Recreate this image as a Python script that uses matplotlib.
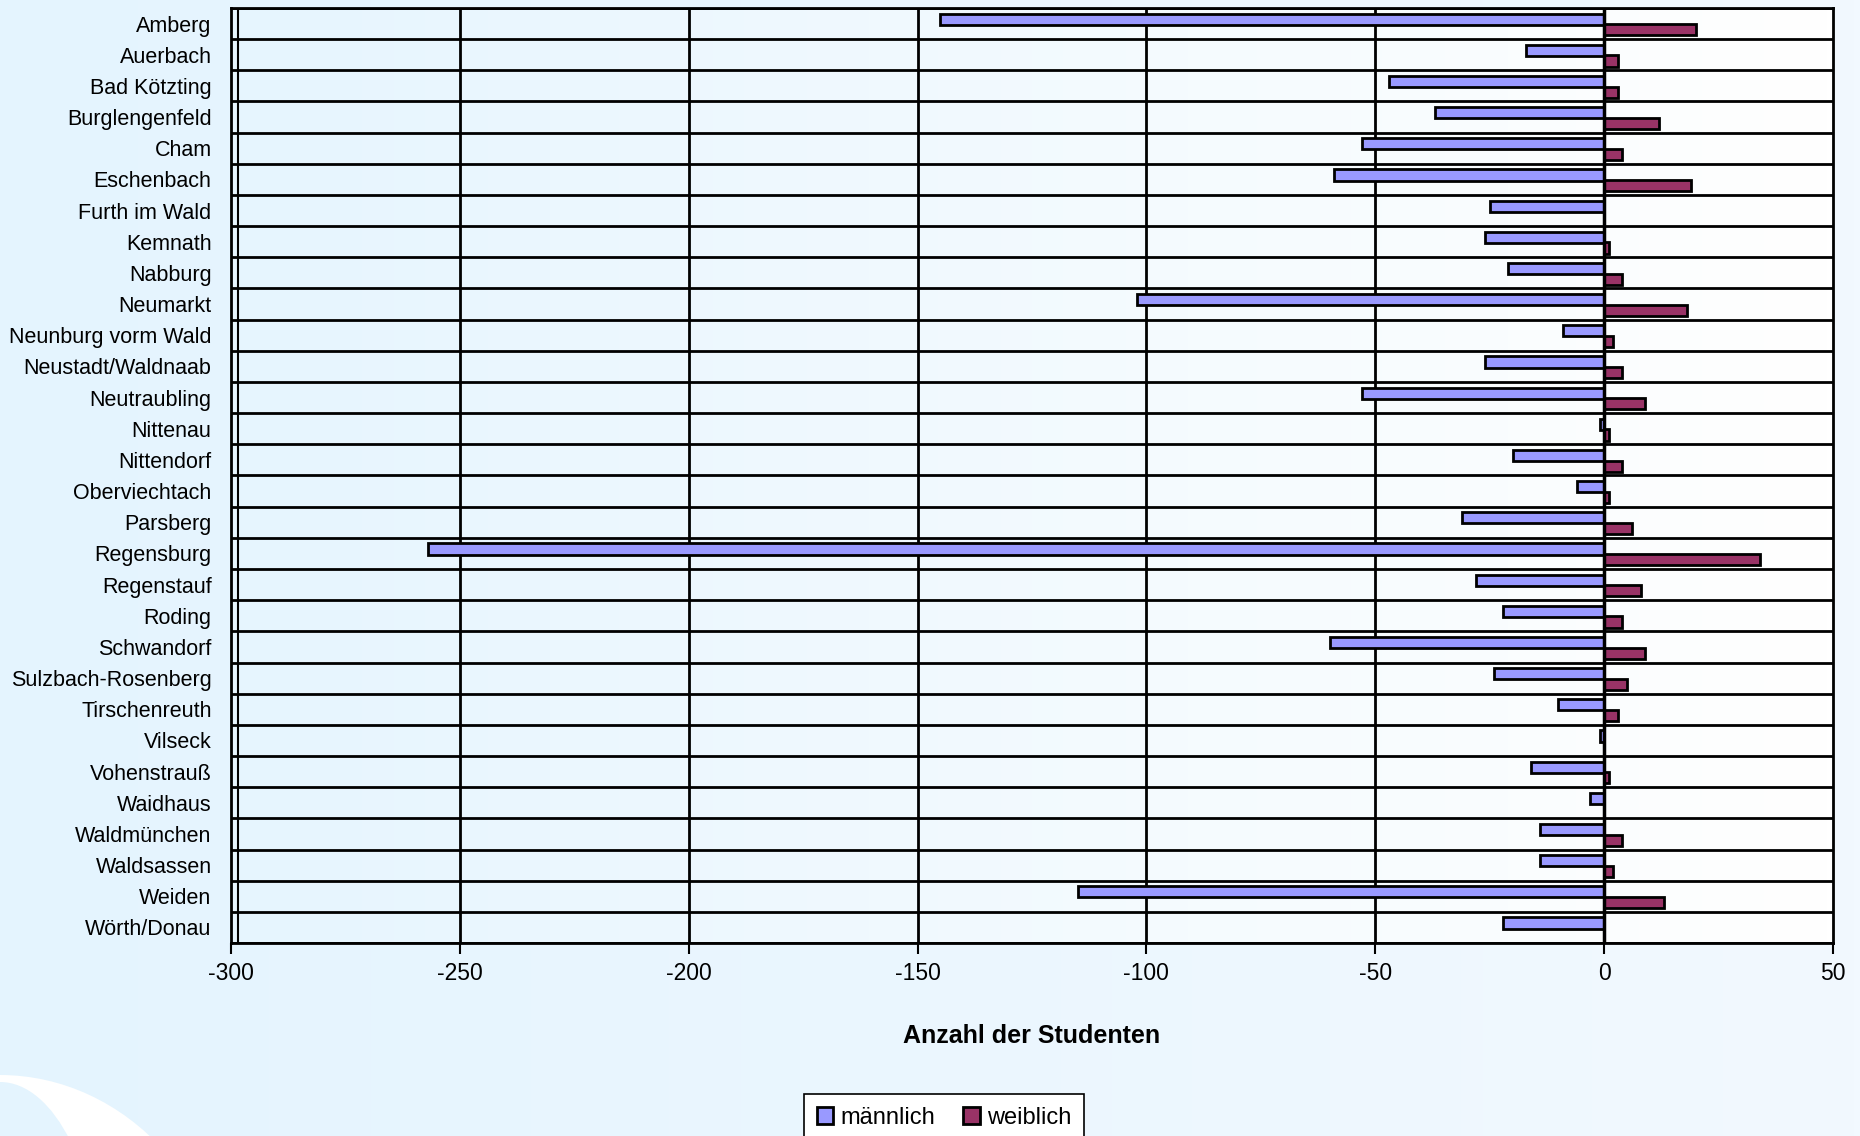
import numpy as np
import matplotlib.pyplot as plt
from matplotlib.patches import Ellipse
from matplotlib.colors import LinearSegmentedColormap

plt.rcParams['font.family'] = ['Liberation Sans', 'DejaVu Sans']

# data
orte = ['Amberg', 'Auerbach', 'Bad Kötzting', 'Burglengenfeld', 'Cham', 'Eschenbach',
        'Furth im Wald', 'Kemnath', 'Nabburg', 'Neumarkt', 'Neunburg vorm Wald',
        'Neustadt/Waldnaab', 'Neutraubling', 'Nittenau', 'Nittendorf', 'Oberviechtach',
        'Parsberg', 'Regensburg', 'Regenstauf', 'Roding', 'Schwandorf',
        'Sulzbach-Rosenberg', 'Tirschenreuth', 'Vilseck', 'Vohenstrauß', 'Waidhaus',
        'Waldmünchen', 'Waldsassen', 'Weiden', 'Wörth/Donau']
maennlich = [-145, -17, -47, -37, -53, -59, -25, -26, -21, -102, -9, -26, -53, -1, -20,
             -6, -31, -257, -28, -22, -60, -24, -10, -1, -16, -3, -14, -14, -115, -22]
weiblich = [20, 3, 3, 12, 4, 19, 0, 1, 4, 18, 2, 4, 9, 1, 4, 1, 6, 34, 8, 4, 9, 5, 3, 0,
            1, 0, 4, 2, 13, 0]
xticks = [-300, -250, -200, -150, -100, -50, 0, 50]

W, H = 1860, 1136
BG = '#e4f4fe'
fig = plt.figure(figsize=(W / 100, H / 100), dpi=100)

# background gradient + white swoosh bottom left
bg = fig.add_axes([0, 0, 1, 1], zorder=-10)
grad = np.linspace(0, 1, 256)[None, :]
bg.imshow(grad, extent=[0, W, 0, H], aspect='auto',
          cmap=LinearSegmentedColormap.from_list('bg', [BG, '#f2f9ff']))
bg.add_patch(Ellipse((0, -200), 466, 522, facecolor='white', edgecolor='none'))
bg.add_patch(Ellipse((0, -150), 200, 408, facecolor=BG, edgecolor='none'))
bg.set_xlim(0, W)
bg.set_ylim(0, H)
bg.axis('off')

ax = fig.add_axes([231 / W, 1 - 943 / H, (1833 - 231) / W, (943 - 8) / H])
ax.set_facecolor('none')
n = len(orte)
y = np.arange(n)

# plot area gradient
ax.imshow(grad, extent=[-300, 50, n - 0.5, -0.5], aspect='auto', zorder=0,
          cmap=LinearSegmentedColormap.from_list('pa', ['#e6f5fe', '#ffffff']))

ax.barh(y - 0.14, maennlich, height=0.36, color='#9999ff', edgecolor='black',
        linewidth=2, label='männlich', zorder=3)
ax.barh(y + 0.2, weiblich, height=0.36, color='#993366', edgecolor='black',
        linewidth=2, label='weiblich', zorder=3)

for v in xticks[1:-1]:
    ax.axvline(v, color='black', lw=2, zorder=1)
ax.axvline(0, color='black', lw=2.5, zorder=4)
ax.axvline(-298.5, color='black', lw=1.5, zorder=1)
for b in np.arange(n + 1) - 0.5:
    ax.axhline(b, color='black', lw=2, zorder=1)

ax.set_xlim(-300, 50)
ax.set_ylim(n - 0.5, -0.5)
ax.set_xticks(xticks)
ax.set_xticklabels([str(v) for v in xticks], fontsize=16.5)
ax.set_yticks(y)
ax.set_yticklabels(orte, fontsize=15.5)
ax.tick_params(axis='y', length=0, pad=14)
ax.tick_params(axis='x', length=8, width=1.5, pad=6)
for s in ax.spines.values():
    s.set_linewidth(2)
ax.set_xlabel('Anzahl der Studenten', fontsize=18, fontweight='bold', labelpad=28)

leg = ax.legend(loc='upper center', bbox_to_anchor=(944 / W, 1 - 1094 / H),
                bbox_transform=fig.transFigure, ncol=2, fontsize=17, frameon=True,
                fancybox=False, edgecolor='black', framealpha=1, handlelength=0.7,
                handleheight=0.7, handletextpad=0.3, columnspacing=1.2, borderpad=0.55,
                borderaxespad=0)
leg.get_frame().set_linewidth(1.2)

fig.savefig('out.png', dpi=100)
